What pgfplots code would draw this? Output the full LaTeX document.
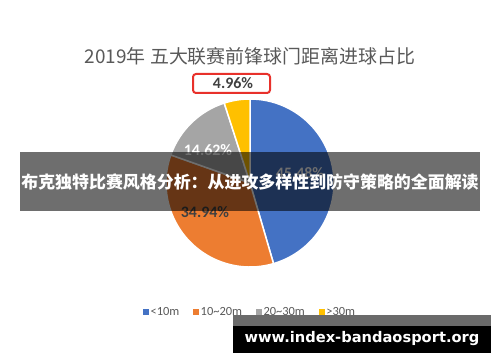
\documentclass[border=0pt]{standalone}
\usepackage{pgfplots}
\pgfplotsset{compat=1.18}
\usepackage{pgfplotstable}
\usepackage{fontspec}
\setmainfont{Carlito}
\newfontfamily\cjk{Noto Sans CJK SC}
\newfontfamily\dvs{DejaVu Sans}
\definecolor{cblue}{HTML}{4472C4}
\definecolor{corange}{HTML}{ED7D31}
\definecolor{cgray}{HTML}{A5A5A5}
\definecolor{cyellow}{HTML}{FFC000}
\definecolor{txtgray}{HTML}{595959}
\definecolor{lblgray}{HTML}{404040}
\definecolor{boxred}{HTML}{E8312B}
\definecolor{stripgray}{HTML}{6A6A6A}

\pgfplotstableread{
value color
45.48 cblue
34.94 corange
14.62 cgray
4.96 cyellow
}\piedata

\begin{document}
\begin{tikzpicture}
\useasboundingbox (0,0) rectangle (500bp,362bp);
\fill[white] (0,0) rectangle (500bp,362bp);
\begin{axis}[x=1bp,y=1bp,xmin=0,xmax=500,ymin=0,ymax=362,
  hide axis, clip=false, at={(0,0)}, anchor=south west,
  legend columns=4,
  legend style={draw=none, fill=none, at={(axis cs:143,50)}, anchor=west,
    inner sep=0pt, font=\fontsize{12.5}{14}\selectfont\color{txtgray},
    /tikz/every even column/.append style={column sep=12bp}},
]
\addlegendimage{legend image code/.code={\fill[cblue] (0bp,-2.5bp) rectangle (5bp,2.5bp);}}
\addlegendentry{<10m}
\addlegendimage{legend image code/.code={\fill[corange] (0bp,-2.5bp) rectangle (5bp,2.5bp);}}
\addlegendentry{10\textasciitilde 20m}
\addlegendimage{legend image code/.code={\fill[cgray] (0bp,-2.5bp) rectangle (5bp,2.5bp);}}
\addlegendentry{20\textasciitilde 30m}
\addlegendimage{legend image code/.code={\fill[cyellow] (0bp,-2.5bp) rectangle (5bp,2.5bp);}}
\addlegendentry{>30m}

\gdef\cumval{0}
\pgfplotsforeachungrouped \sliceidx in {0,...,3}{%
  \pgfplotstablegetelem{\sliceidx}{value}\of\piedata
  \let\sliceval\pgfplotsretval
  \pgfplotstablegetelem{\sliceidx}{color}\of\piedata
  \let\slicecol\pgfplotsretval
  \pgfmathsetmacro\angA{90-3.6*\cumval}%
  \pgfmathsetmacro\angB{90-3.6*(\cumval+\sliceval)}%
  \edef\temp{\noexpand\fill[\slicecol,draw=white,line width=1.5bp] (axis cs:250,179) -- ++(\angA:84bp) arc[start angle=\angA,end angle=\angB,radius=84bp] -- cycle;}%
  \temp
  \pgfmathsetmacro\cumval{\cumval+\sliceval}%
  \global\let\cumval\cumval
}

\node[white, font=\bfseries\fontsize{16}{18}\selectfont] at (axis cs:300,189) {45.48\%};
\node[lblgray, font=\bfseries\fontsize{16}{18}\selectfont] at (axis cs:205,150) {34.94\%};
\node[white, font=\bfseries\fontsize{16}{18}\selectfont] at (axis cs:208,212) {14.62\%};
\draw[boxred, line width=2bp, rounded corners=3bp] (axis cs:193,288) rectangle (axis cs:270,269);
\node[lblgray, font=\bfseries\fontsize{16}{18}\selectfont] at (axis cs:233,278.5) {4.96\%};
\end{axis}

\node[txtgray, font=\cjk\fontsize{19}{21}\selectfont] at (250bp,306bp) {2019年 五大联赛前锋球门距离进球占比};

\fill[black, opacity=0.57] (20bp,151bp) rectangle (480bp,210bp);
\node[white, font=\cjk\bfseries\fontsize{17}{19}\selectfont] at (250bp,180bp) {布克独特比赛风格分析：从进攻多样性到防守策略的全面解读};

\fill[stripgray] (233bp,36bp) rectangle (491bp,47bp);
\fill[black] (233bp,9bp) rectangle (491bp,36bp);
\node[white, font=\dvs\bfseries\fontsize{14.7}{16}\selectfont] at (362bp,23bp) {www.index-bandaosport.org};
\end{tikzpicture}
\end{document}
